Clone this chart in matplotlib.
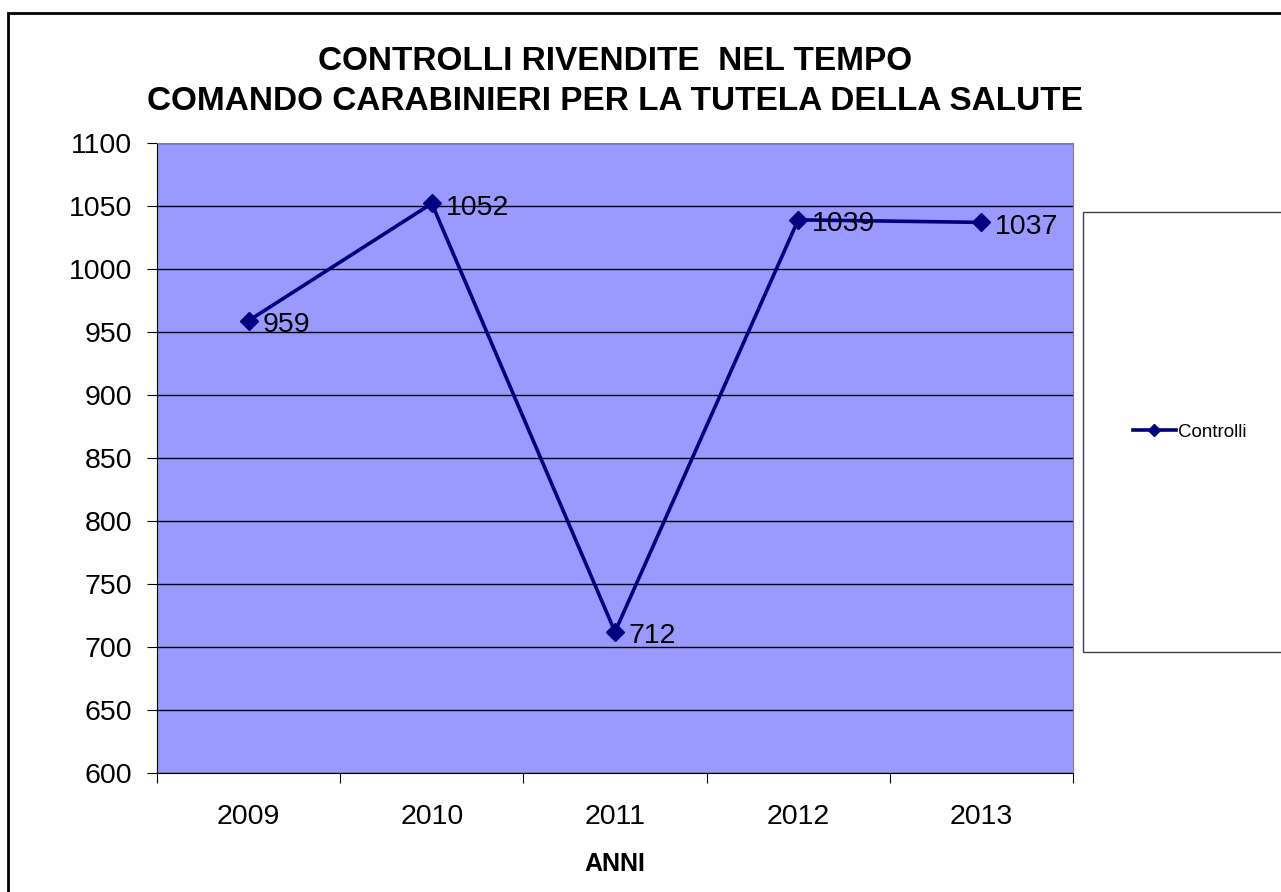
import matplotlib.pyplot as plt
from matplotlib.patches import Rectangle

plt.rcParams["font.family"] = ["Liberation Sans", "DejaVu Sans"]

years = ["2009", "2010", "2011", "2012", "2013"]
controlli = [959, 1052, 712, 1039, 1037]
y_ticks = list(range(600, 1101, 50))

fig = plt.figure(figsize=(12.81, 8.92), dpi=100)
ax = fig.add_axes([157 / 1281, 1 - 773 / 892, (1073 - 157) / 1281, (773 - 143) / 892])
ax.set_facecolor("#9999FF")

# outer chart border (runs off the right and bottom edges)
fig.patches.append(Rectangle((8 / 1281, -0.05), 1.1, 1 - 13 / 892 + 0.05,
                             transform=fig.transFigure, fill=False,
                             edgecolor="black", linewidth=2))

x = list(range(len(years)))
line, = ax.plot(x, controlli, color="#000080", linewidth=2.6, marker="D",
                markersize=9, label="Controlli", zorder=3)
for xi, v in zip(x, controlli):
    ax.annotate(str(v), (xi, v), xytext=(10, -3), textcoords="offset points",
                ha="left", va="center", fontsize=20.5, zorder=4)

ax.set_xlim(-0.5, 4.5)
ax.set_ylim(600, 1100)
ax.set_yticks(y_ticks)
ax.set_yticklabels([str(t) for t in y_ticks], fontsize=20.5)
ax.yaxis.grid(True, color="black", linewidth=1)
ax.set_axisbelow(True)

ax.set_xticks([i + 0.5 for i in range(-1, len(years))])
ax.set_xticklabels([])
ax.set_xticks(x, minor=True)
ax.set_xticklabels(years, minor=True, fontsize=20.5)
ax.tick_params(axis="x", which="minor", length=0, pad=22)
ax.tick_params(axis="x", which="major", length=7, direction="out", color="black")
ax.tick_params(axis="y", length=7, direction="out", pad=11)

ax.spines["top"].set_color("#808080")
ax.spines["right"].set_color("#808080")
for s in ["left", "bottom"]:
    ax.spines[s].set_color("black")

ax.set_xlabel("ANNI", fontsize=18, fontweight="bold", labelpad=16)

fig.text(615 / 1281, 1 - 61 / 892, "CONTROLLI RIVENDITE  NEL TEMPO",
         ha="center", va="center", fontsize=24, fontweight="bold")
fig.text(615 / 1281, 1 - 102 / 892, "COMANDO CARABINIERI PER LA TUTELA DELLA SALUTE",
         ha="center", va="center", fontsize=24, fontweight="bold")

# legend box
fig.patches.append(Rectangle((1083 / 1281, 1 - 652 / 892), 0.2, (652 - 212) / 892,
                             transform=fig.transFigure, facecolor="white",
                             edgecolor="#404040", linewidth=1))
fig.legend(handles=[line], loc="center left",
           bbox_to_anchor=(1116 / 1281, 1 - 432 / 892), frameon=False,
           fontsize=13.5, handlelength=2.3, handletextpad=0.1, markerscale=0.7)

fig.savefig("out.png", dpi=100)
